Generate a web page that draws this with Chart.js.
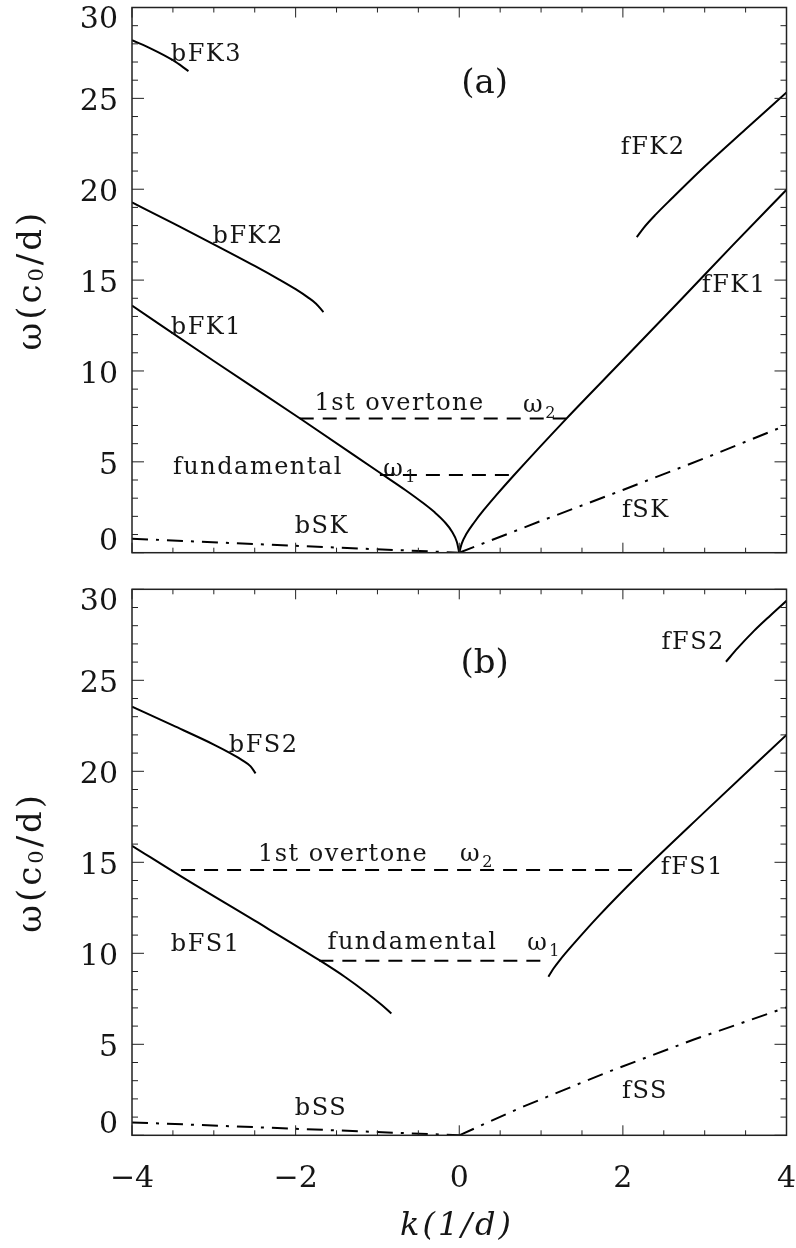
<!DOCTYPE html>
<html>
<head>
<meta charset="utf-8">
<script src="https://cdn.jsdelivr.net/npm/chart.js@4.4.0/dist/chart.umd.min.js"></script>
<style>
body { margin: 0; background: #fff; }
#wrap { position: relative; width: 796px; height: 1248px; }
canvas { position: absolute; left: 0; }
#top_chart { top: 0; }
#bot_chart { top: 570px; }
</style>
</head>
<body>
<div id="wrap">
  <canvas id="top_chart" width="796" height="570"></canvas>
  <canvas id="bot_chart" width="796" height="678"></canvas>
</div>
<script>
// tick labels
const k_ticks = [-4, -2, 0, 2, 4];
const w_ticks = [0, 5, 10, 15, 20, 25, 30];

// panel (a): k in 1/d, omega in c0/d
const bFK3_k = [-4, -3.75, -3.5, -3.31];
const bFK3_w = [28.2, 27.7, 27.1, 26.5];
const bFK2_k = [-4, -3.5, -3.0, -2.5, -2.2, -2.0, -1.85, -1.75, -1.66];
const bFK2_w = [19.28, 18.13, 16.97, 15.78, 15.03, 14.5, 14.05, 13.7, 13.24];
const bFK1_k = [-4, -3, -1.95, -0.97, -0.66, -0.45, -0.3, -0.18, -0.09, -0.03, 0];
const bFK1_w = [13.6, 10.55, 7.4, 4.4, 3.45, 2.76, 2.22, 1.7, 1.17, 0.6, 0];
const fFK1_k = [0, 0.03, 0.09, 0.18, 0.3, 0.45, 0.66, 1.31, 2.0, 2.7, 3.35, 4.0];
const fFK1_w = [0, 0.5, 1.05, 1.65, 2.35, 3.15, 4.22, 7.38, 10.6, 13.88, 16.95, 19.97];
const fFK2_k = [2.17, 2.25, 2.4, 2.6, 3.0, 3.5, 4.0];
const fFK2_w = [17.36, 17.85, 18.6, 19.5, 21.25, 23.3, 25.33];
const over_a_k = [-1.95, 1.31];
const over_a_w = [7.38, 7.38];
const fund_a_k = [-0.97, 0.66];
const fund_a_w = [4.27, 4.27];
const bSK_k = [-4, -2, 0];
const bSK_w = [0.77, 0.38, 0];
const fSK_k = [0, 1, 2, 3, 4];
const fSK_w = [0, 1.75, 3.45, 5.2, 7.02];

// panel (b)
const bFS2_k = [-4, -3.5, -3.0, -2.8, -2.65, -2.55, -2.49];
const bFS2_w = [23.55, 22.52, 21.47, 21.0, 20.6, 20.27, 19.89];
const bFS1_k = [-4, -3.33, -2.5, -1.71, -1.4, -1.13, -0.95, -0.83];
const bFS1_w = [15.91, 14.03, 11.79, 9.62, 8.71, 7.82, 7.17, 6.69];
const fFS1_k = [1.09, 1.15, 1.23, 1.4, 1.7, 2.2, 3.0, 4.0];
const fFS1_w = [8.71, 9.15, 9.63, 10.53, 12.03, 14.33, 17.77, 22.0];
const fFS2_k = [3.26, 3.4, 3.6, 3.8, 4.0];
const fFS2_w = [26.02, 26.75, 27.7, 28.55, 29.37];
const over_b_k = [-3.4, 2.22];
const over_b_w = [14.58, 14.58];
const fund_b_k = [-1.71, 1.07];
const fund_b_w = [9.59, 9.59];
const bSS_k = [-4, -2, 0];
const bSS_w = [0.71, 0.36, 0];
const fSS_k = [0, 0.74, 1.8, 2.86, 4.0];
const fSS_w = [0, 1.5, 3.45, 5.25, 7.03];

const SOLID = [];
const DASH = [14, 9];
const DASHDOT = [16, 8, 3, 8];
const FONT = '"DejaVu Serif", serif';

function make_set(k, w, dash) {
    return {
        data: k.map((v, i) => ({ x: v, y: w[i] })),
        showLine: true,
        borderColor: '#000',
        borderWidth: 2,
        borderDash: dash,
        pointRadius: 0,
        cubicInterpolationMode: dash.length ? 'default' : 'monotone',
        tension: 0
    };
}

function put_text(ctx, str, x, y, size, align, spacing, italic) {
    ctx.font = (italic ? 'italic ' : '') + size + 'px ' + FONT;
    ctx.letterSpacing = (spacing || 0) + 'px';
    ctx.textAlign = align || 'center';
    ctx.textBaseline = 'middle';
    ctx.fillText(str, x, y);
    return ctx.measureText(str).width;
}

// frame, inward ticks, labels
const frame_plugin = {
    id: 'frame_plugin',
    afterDraw(chart, args, opts) {
        const ctx = chart.ctx;
        const a = chart.chartArea;
        const xs = chart.scales.x, ys = chart.scales.y;
        ctx.save();
        ctx.strokeStyle = '#222';
        ctx.fillStyle = '#151515';
        ctx.lineWidth = 1.5;
        ctx.strokeRect(a.left, a.top, a.right - a.left, a.bottom - a.top);
        ctx.lineWidth = 1;
        ctx.beginPath();
        for (let i = 0; i <= 16; i++) {
            let k = -4 + i * 0.5;
            let px = xs.getPixelForValue(k);
            let len = (i % 4 == 0) ? 10 : 5;
            ctx.moveTo(px, a.bottom); ctx.lineTo(px, a.bottom - len);
            ctx.moveTo(px, a.top); ctx.lineTo(px, a.top + len);
        }
        for (let w = 0; w <= 30; w++) {
            let py = ys.getPixelForValue(w);
            let len = (w % 5 == 0) ? 12 : 6;
            ctx.moveTo(a.left, py); ctx.lineTo(a.left + len, py);
            ctx.moveTo(a.right, py); ctx.lineTo(a.right - len, py);
        }
        ctx.stroke();

        // y tick labels
        w_ticks.forEach(w => {
            let py = ys.getPixelForValue(w) + 4;
            py = Math.min(Math.max(py, a.top + 13), a.bottom - 10);
            put_text(ctx, String(w), a.left - 14, py, 30, 'right');
        });

        // y title: ω(c0/d), rotated
        let cy = (a.top + a.bottom) / 2;
        ctx.translate(32, cy);
        ctx.rotate(-Math.PI / 2);
        ctx.font = '34px ' + FONT;
        ctx.letterSpacing = '3px';
        let w1 = ctx.measureText('ω(c').width;
        let w3 = ctx.measureText('/d)').width;
        ctx.font = '21px ' + FONT;
        let w2 = ctx.measureText('0').width;
        let x0 = -(w1 + w2 + w3) / 2;
        put_text(ctx, 'ω(c', x0, 0, 34, 'left', 3);
        put_text(ctx, '0', x0 + w1, 6, 21, 'left', 3);
        put_text(ctx, '/d)', x0 + w1 + w2, 0, 34, 'left', 3);
        ctx.setTransform(1, 0, 0, 1, 0, 0);

        // curve labels
        opts.labels.forEach(l => {
            let px = xs.getPixelForValue(l.k), py = ys.getPixelForValue(l.w);
            let wd = put_text(ctx, l.text, px, py, l.size || 24, l.align || 'center', l.size ? 0 : 1.5);
            if (l.sub) {
                put_text(ctx, l.sub, px + wd + 1, py + 8, 16, 'left', 0);
            }
        });

        // x axis labels (bottom panel only)
        if (opts.x_axis) {
            k_ticks.forEach(k => {
                let txt = k < 0 ? '\u2212' + Math.abs(k) : String(k);
                put_text(ctx, txt, xs.getPixelForValue(k), a.bottom + 44, 30, 'center');
            });
            put_text(ctx, 'k(1/d)', 457, a.bottom + 91, 32, 'center', 3, true);
        }
        ctx.restore();
    }
};

function make_chart(id, sets, pad, labels, x_axis) {
    let ctx = document.getElementById(id).getContext('2d');
    return new Chart(ctx, {
        type: 'scatter',
        data: { datasets: sets },
        options: {
            responsive: false,
            animation: false,
            layout: { padding: pad },
            plugins: {
                legend: { display: false },
                tooltip: { enabled: false },
                frame_plugin: { labels: labels, x_axis: x_axis }
            },
            scales: {
                x: { type: 'linear', min: -4, max: 4, display: false },
                y: { type: 'linear', min: 0, max: 30, display: false }
            }
        },
        plugins: [frame_plugin]
    });
}

const top_labels = [
    { text: 'bFK3', k: -3.09, w: 27.4 },
    { text: '(a)', k: 0.31, w: 25.8, size: 34 },
    { text: 'fFK2', k: 2.37, w: 22.3 },
    { text: 'bFK2', k: -2.58, w: 17.4 },
    { text: 'fFK1', k: 3.36, w: 14.7 },
    { text: 'bFK1', k: -3.09, w: 12.4 },
    { text: '1st overtone', k: -1.77, w: 8.17, align: 'left' },
    { text: 'ω', sub: '2', k: 0.78, w: 8.1, align: 'left' },
    { text: 'fundamental', k: -3.5, w: 4.65, align: 'left' },
    { text: 'ω', sub: '1', k: -0.93, w: 4.55, align: 'left' },
    { text: 'bSK', k: -1.68, w: 1.41 },
    { text: 'fSK', k: 2.28, w: 2.29 }
];

const bot_labels = [
    { text: '(b)', k: 0.31, w: 25.9, size: 34 },
    { text: 'fFS2', k: 2.86, w: 27.05 },
    { text: 'bFS2', k: -2.39, w: 21.4 },
    { text: '1st overtone', k: -2.46, w: 15.41, align: 'left' },
    { text: 'ω', sub: '2', k: 0.01, w: 15.41, align: 'left' },
    { text: 'fFS1', k: 2.85, w: 14.69 },
    { text: 'bFS1', k: -3.1, w: 10.46 },
    { text: 'fundamental', k: -1.61, w: 10.57, align: 'left' },
    { text: 'ω', sub: '1', k: 0.83, w: 10.5, align: 'left' },
    { text: 'bSS', k: -1.69, w: 1.45 },
    { text: 'fSS', k: 2.27, w: 2.38 }
];

make_chart('top_chart', [
    make_set(bFK3_k, bFK3_w, SOLID),
    make_set(bFK2_k, bFK2_w, SOLID),
    make_set(bFK1_k, bFK1_w, SOLID),
    make_set(fFK1_k, fFK1_w, SOLID),
    make_set(fFK2_k, fFK2_w, SOLID),
    make_set(over_a_k, over_a_w, DASH),
    make_set(fund_a_k, fund_a_w, DASH),
    make_set(bSK_k, bSK_w, DASHDOT),
    make_set(fSK_k, fSK_w, DASHDOT)
], { left: 132, top: 7.5, right: 9.5, bottom: 17.3 }, top_labels, false);

make_chart('bot_chart', [
    make_set(bFS2_k, bFS2_w, SOLID),
    make_set(bFS1_k, bFS1_w, SOLID),
    make_set(fFS1_k, fFS1_w, SOLID),
    make_set(fFS2_k, fFS2_w, SOLID),
    make_set(over_b_k, over_b_w, DASH),
    make_set(fund_b_k, fund_b_w, DASH),
    make_set(bSS_k, bSS_w, DASHDOT),
    make_set(fSS_k, fSS_w, DASHDOT)
], { left: 132, top: 19.3, right: 9.5, bottom: 112.7 }, bot_labels, true);
</script>
</body>
</html>
